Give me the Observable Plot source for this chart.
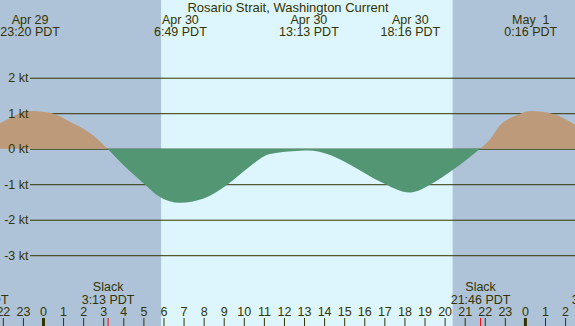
<!DOCTYPE html>
<html><head><meta charset="utf-8">
<script src="https://cdn.jsdelivr.net/npm/d3@7"></script>
<script src="https://cdn.jsdelivr.net/npm/@observablehq/plot@0.6"></script>
<style>
html,body{margin:0;padding:0;background:#ddf6fd;overflow:hidden;}
svg{display:block}
</style></head><body><div id="chart"></div>
<script>
const title = "Rosario Strait, Washington Current";

// current speed (kt) vs hours since Apr 30 00:00 PDT
const curveHours = [-2.14, -1.64, -1.2, -0.667, 0.35, 1.34, 2.34, 3.217, 4, 5, 5.8, 6.817, 8, 9.16, 10.3, 11.3, 12.8, 13.217, 14.3, 15.6, 16.8, 18.267, 19.4, 20.4, 21, 21.767, 22.3, 22.76, 23.6, 24.267, 25.4, 26.5];
const curveKnots = [0.72, 0.86, 0.99, 1.06, 1.01, 0.76, 0.44, 0, -0.46, -0.97, -1.35, -1.52, -1.40, -1.02, -0.5, -0.15, -0.06, -0.05, -0.18, -0.55, -0.93, -1.23, -0.97, -0.6, -0.35, 0, 0.29, 0.66, 0.94, 1.06, 0.98, 0.67];

const eventHours = [-0.667, 6.817, 13.217, 18.267, 24.267];
const eventLabels = ["Apr 29\n23:20 PDT", "Apr 30\n6:49 PDT", "Apr 30\n13:13 PDT", "Apr 30\n18:16 PDT", "May\u00a0\u00a01\n0:16 PDT"];

const slackHours = [-3.23, 3.217, 21.767, 27.62];
const slackLabels = ["Slack\n20:46 PDT", "Slack\n3:13 PDT", "Slack\n21:46 PDT", "Slack\n3:37 PDT"];

const sunsetHours = [-3.8, 20.40];
const sunriseHours = [5.88, 29.9];

const hourTicks = [-2,-1,0,1,2,3,4,5,6,7,8,9,10,11,12,13,14,15,16,17,18,19,20,21,22,23,24,25,26];
const hourLabels = ["22","23","0","1","2","3","4","5","6","7","8","9","10","11","12","13","14","15","16","17","18","19","20","21","22","23","0","1","2"];
const midnightHours = [0, 24];

const knotTicks = [-3, -2, -1, 0, 1, 2];
const knotLabels = ["-3 kt", "-2 kt", "-1 kt", "0 kt", "1 kt", "2 kt"];

const timeWindow = [-2.141, 26.494];
const knotWindow = [-4.994, 4.189];

const ink = "#333300";
const nightColor = "#afc3d8";
const floodColor = "#bd9a79";
const ebbColor = "#529673";

// split the curve into flood / ebb series at slack points
const rows = [];
let seg = 0;
curveHours.forEach((h, i) => {
  const v = curveKnots[i];
  rows.push({h, v, seg});
  if (v === 0 && i > 0 && i < curveHours.length - 1) {
    seg++;
    rows.push({h, v, seg});
  }
});
const segSign = {};
rows.forEach(r => { if (r.v !== 0) segSign[r.seg] = r.v > 0 ? "flood" : "ebb"; });
rows.forEach(r => { r.sign = segSign[r.seg]; });

const nights = sunsetHours.map((s, i) => ({x1: s, x2: sunriseHours[i]}));

const chart = Plot.plot({
  width: 575,
  height: 326,
  margin: 0,
  x: {domain: timeWindow, axis: null},
  y: {domain: knotWindow, axis: null},
  color: {domain: ["flood", "ebb"], range: [floodColor, ebbColor]},
  style: {background: "#ddf6fd", fontFamily: "'Liberation Sans', Arial, sans-serif", fontSize: "12.5px", color: ink, overflow: "hidden"},
  marks: [
    Plot.rect(nights, {x1: "x1", x2: "x2", fill: nightColor, clip: true}),
    Plot.ruleY(knotTicks, {stroke: ink, strokeWidth: 1, insetLeft: 30}),
    Plot.areaY(rows, {x: "h", y: "v", z: "seg", fill: "sign", curve: "monotone-x", clip: true}),
    Plot.text(knotTicks, {y: d => d, text: (d, i) => knotLabels[i], frameAnchor: "left", dx: 28, textAnchor: "end", fill: ink, fontSize: 12.5}),
    Plot.text([title], {frameAnchor: "top", lineAnchor: "top", dy: 1.8, fill: ink, fontSize: 13}),
    Plot.text(eventHours, {x: d => d, text: (d, i) => eventLabels[i], frameAnchor: "top", lineAnchor: "top", dy: 15.1, lineHeight: 0.96, fill: ink, fontSize: 12.5}),
    Plot.text(slackHours, {x: d => d, text: (d, i) => slackLabels[i], frameAnchor: "bottom", lineAnchor: "top", dy: -43.9, lineHeight: 1, fill: ink, fontSize: 12.5}),
    Plot.text(hourTicks, {x: d => d, text: (d, i) => hourLabels[i], frameAnchor: "bottom", lineAnchor: "top", dy: -19.4, fill: ink, fontSize: 12.5}),
    Plot.ruleX(hourTicks, {x: d => d, insetTop: 318, stroke: ink}),
    Plot.ruleX(midnightHours, {x: d => d, insetTop: 318, stroke: ink, strokeWidth: 3}),
    Plot.ruleX(slackHours, {x: d => d, insetTop: 318, stroke: "red"})
  ]
});
document.getElementById("chart").appendChild(chart);
</script></body></html>
